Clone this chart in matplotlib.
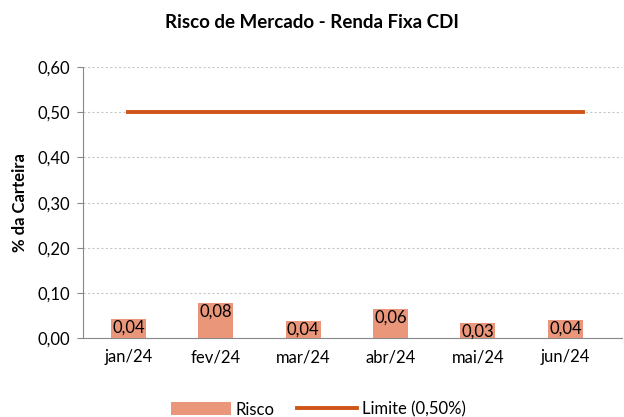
import matplotlib.pyplot as plt
import numpy as np

plt.rcParams['font.family'] = ['Lato', 'DejaVu Sans']

meses = ['jan/24', 'fev/24', 'mar/24', 'abr/24', 'mai/24', 'jun/24']
risco = [0.042, 0.077, 0.038, 0.064, 0.033, 0.040]
limite = [0.50, 0.50, 0.50, 0.50, 0.50, 0.50]
yticks = [0.0, 0.1, 0.2, 0.3, 0.4, 0.5, 0.6]

cor_barra = '#EA967A'
cor_linha = '#CF5418'
largura = 0.4

fig = plt.figure(figsize=(6.24, 4.17), dpi=100)
ax = fig.add_axes([0.133, 0.189, 0.864, 0.650])

x = np.arange(len(meses))
bars = ax.bar(x, risco, width=largura, color=cor_barra, label='Risco', zorder=2)
# linha do limite vai do centro de jan ate a borda da barra de jun
xl = np.append(x, x[-1] + largura / 2)
yl = np.append(limite, limite[-1])
ax.plot(xl, yl, color=cor_linha, lw=2.8, label='Limite (0,50%)', zorder=3)

for b, v in zip(bars, risco):
    ax.text(b.get_x() + b.get_width() / 2, v - 0.001, f'{v:.2f}'.replace('.', ','),
            ha='center', va='top', fontsize=12, color='black', zorder=4)

ax.set_xlim(-0.52, 5.65)
ax.set_ylim(0, 0.6)
ax.set_yticks(yticks)
ax.set_yticklabels([f'{t:.2f}'.replace('.', ',') for t in yticks], fontsize=12)
ax.set_xticks(x)
ax.set_xticklabels(meses, fontsize=12)
ax.tick_params(axis='x', length=0, pad=8)
ax.tick_params(axis='y', length=4, color='#888888', pad=5)
ax.grid(axis='y', color='#c8c8c8', ls=(0, (2, 2)), lw=0.8, zorder=0)
for s in ['top', 'right']:
    ax.spines[s].set_visible(False)
for s in ['left', 'bottom']:
    ax.spines[s].set_color('#888888')

ax.set_ylabel('% da Carteira', fontsize=12, fontweight='bold', labelpad=7)
fig.text(0.50, 0.945, 'Risco de Mercado - Renda Fixa CDI', ha='center', va='center',
         fontsize=13.5, fontweight='bold')

h, l = ax.get_legend_handles_labels()
fig.legend(h[::-1], l[::-1], loc='center', bbox_to_anchor=(0.51, 0.018), ncol=2,
           frameon=False, fontsize=12, handlelength=3.6, handletextpad=0.3,
           columnspacing=1.3, handleheight=0.8)

fig.savefig('out.png', dpi=100)
